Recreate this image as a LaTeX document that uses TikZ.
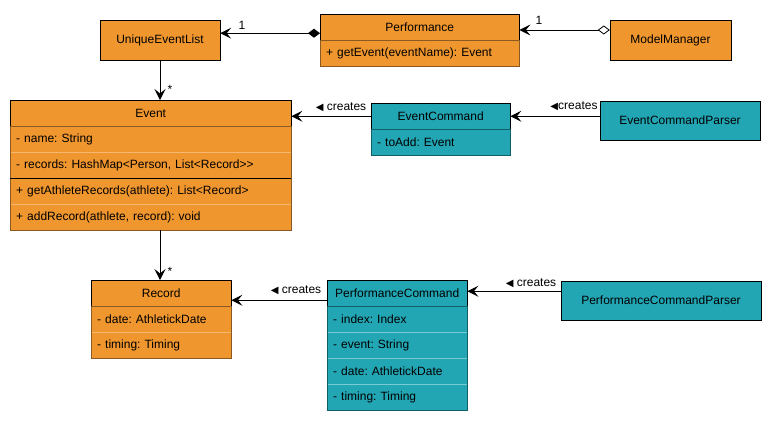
\documentclass[tikz,border=0pt]{standalone}
\usepackage{fontspec}
\setmainfont{Liberation Sans}
\newfontfamily\symfont{DejaVu Sans}
\usetikzlibrary{arrows.meta}
\frenchspacing
\definecolor{orng}{HTML}{F0962E}
\definecolor{tealc}{HTML}{23A6B4}
\definecolor{brwn}{HTML}{8A5A22}
\definecolor{dteal}{HTML}{10606A}
\definecolor{lorng}{HTML}{F6B770}
\definecolor{lteal}{HTML}{78CBD3}
\tikzset{
  txt/.style={font=\fontsize{12}{14}\selectfont},
  hdr/.style={txt, anchor=north west, minimum height=26pt, inner xsep=0pt, inner ysep=0pt, align=center, text width=#1},
  rowc/.style={txt, anchor=north west, minimum height=26pt, inner xsep=6pt, inner ysep=0pt, align=left, text width=#1},
  simple/.style={txt, draw=black, minimum height=40pt, inner sep=0pt, align=center},
  arr/.style={draw=black, line width=1pt, -{Stealth[length=11pt,width=11pt,inset=4.5pt]}},
  comp/.style={draw=black, line width=1pt, {Diamond[length=12pt,width=9pt]}-{Stealth[length=11pt,width=11pt,inset=4.5pt]}},
  aggr/.style={draw=black, line width=1pt, {Diamond[open,fill=white,length=12pt,width=9pt,line width=0.8pt]}-{Stealth[length=11pt,width=11pt,inset=4.5pt]}},
  lbl/.style={txt, inner sep=0pt},
}
\begin{document}
\begin{tikzpicture}[x=1pt,y=-1pt]
\useasboundingbox (0,0) rectangle (771,424);

% ---------- simple boxes ----------
\node[simple, fill=orng, minimum width=120pt] (uel) at (160,40) {UniqueEventList};
\node[simple, fill=orng, minimum width=121pt] (mm) at (670.5,40) {ModelManager};
\node[simple, fill=tealc, minimum width=160pt, minimum height=39pt] (ecp) at (680,120.5) {EventCommandParser};
\node[simple, fill=tealc, minimum width=200pt, minimum height=39pt] (pcp) at (661,300.5) {PerformanceCommandParser};

% ---------- Performance ----------
\node[hdr=199pt, fill=orng] (perfh) at (320,14) {Performance};
\node[rowc=187pt, fill=orng] (perf1) at (320,40) {+ getEvent(eventName): Event};
\draw[brwn] (perfh.south west) rectangle (perf1.south east);
\draw[black] (perfh.south west) -- (perfh.north west) -- (perfh.north east) -- (perfh.south east);

% ---------- Event ----------
\node[hdr=281pt, fill=orng] (evh) at (10,100) {Event};
\node[rowc=269pt, fill=orng] (ev1) at (10,126) {- name: String};
\node[rowc=269pt, fill=orng] (ev2) at (10,152) {- records: HashMap<Person, List<Record>{}>};
\node[rowc=269pt, fill=orng] (ev3) at (10,178) {+ getAthleteRecords(athlete): List<Record>};
\node[rowc=269pt, fill=orng] (ev4) at (10,204) {+ addRecord(athlete, record): void};
\draw[lorng] (ev1.south west) -- (ev1.south east);
\draw[lorng] (ev3.south west) -- (ev3.south east);
\draw[brwn] (evh.south west) rectangle (ev4.south east);
\draw[black] (ev2.south west) -- (ev2.south east);
\draw[black] (evh.south west) -- (evh.north west) -- (evh.north east) -- (evh.south east);

% ---------- EventCommand ----------
\node[hdr=139pt, fill=tealc] (ech) at (371,103) {EventCommand};
\node[rowc=127pt, fill=tealc] (ec1) at (371,129) {- toAdd: Event};
\draw[dteal] (ech.south west) rectangle (ec1.south east);
\draw[black] (ech.south west) -- (ech.north west) -- (ech.north east) -- (ech.south east);

% ---------- Record ----------
\node[hdr=140pt, fill=orng] (rech) at (91,280) {Record};
\node[rowc=128pt, fill=orng] (rec1) at (91,306) {- date: AthletickDate};
\node[rowc=128pt, fill=orng] (rec2) at (91,332) {- timing: Timing};
\draw[lorng] (rec1.south west) -- (rec1.south east);
\draw[brwn] (rech.south west) rectangle (rec2.south east);
\draw[black] (rech.south west) -- (rech.north west) -- (rech.north east) -- (rech.south east);

% ---------- PerformanceCommand ----------
\node[hdr=140pt, fill=tealc] (pch) at (327,280) {PerformanceCommand};
\node[rowc=128pt, fill=tealc] (pc1) at (327,306) {- index: Index};
\node[rowc=128pt, fill=tealc] (pc2) at (327,332) {- event: String};
\node[rowc=128pt, fill=tealc] (pc3) at (327,358) {- date: AthletickDate};
\node[rowc=128pt, fill=tealc] (pc4) at (327,384) {- timing: Timing};
\draw[lteal] (pc1.south west) -- (pc1.south east);
\draw[lteal] (pc2.south west) -- (pc2.south east);
\draw[lteal] (pc3.south west) -- (pc3.south east);
\draw[dteal] (pch.south west) rectangle (pc4.south east);
\draw[black] (pch.south west) -- (pch.north west) -- (pch.north east) -- (pch.south east);

% ---------- connectors ----------
\draw[comp] ([yshift=-6pt]perfh.west) -- ([yshift=-6pt]perfh.west -| uel.east);
\node[lbl] (one1) at (242,25) {1};
\draw[aggr] ([yshift=10pt]mm.west) -- ([yshift=10pt]mm.west -| perfh.east);
\node[lbl] (one2) at (539,20) {1};

\draw[arr] (uel.south) -- (uel.south |- evh.north);
\node[lbl] (star1) at (170,89) {*};
\draw[arr] (uel.south |- ev4.south) -- (uel.south |- rech.north);
\node[lbl] (star2) at (170,271) {*};

\draw[arr] (ech.west) -- (ech.west -| evh.east);
\node[lbl] (cr1) at (341,107) {{\symfont\fontsize{10}{12}\selectfont ◀} creates};
\draw[arr] (ecp.west |- ech.west) -- (ech.east);
\node[lbl] (cr2) at (574,106) {{\symfont\fontsize{10}{12}\selectfont ◀}creates};

\draw[arr] ([yshift=-7pt]pch.west) -- ([yshift=-7pt]pch.west -| rech.east);
\node[lbl] (cr3) at (296,290) {{\symfont\fontsize{10}{12}\selectfont ◀} creates};
\draw[arr] ([yshift=2pt]pcp.west |- pch.east) -- ([yshift=2pt]pch.east);
\node[lbl] (cr4) at (531,283) {{\symfont\fontsize{10}{12}\selectfont ◀} creates};
\end{tikzpicture}
\end{document}
